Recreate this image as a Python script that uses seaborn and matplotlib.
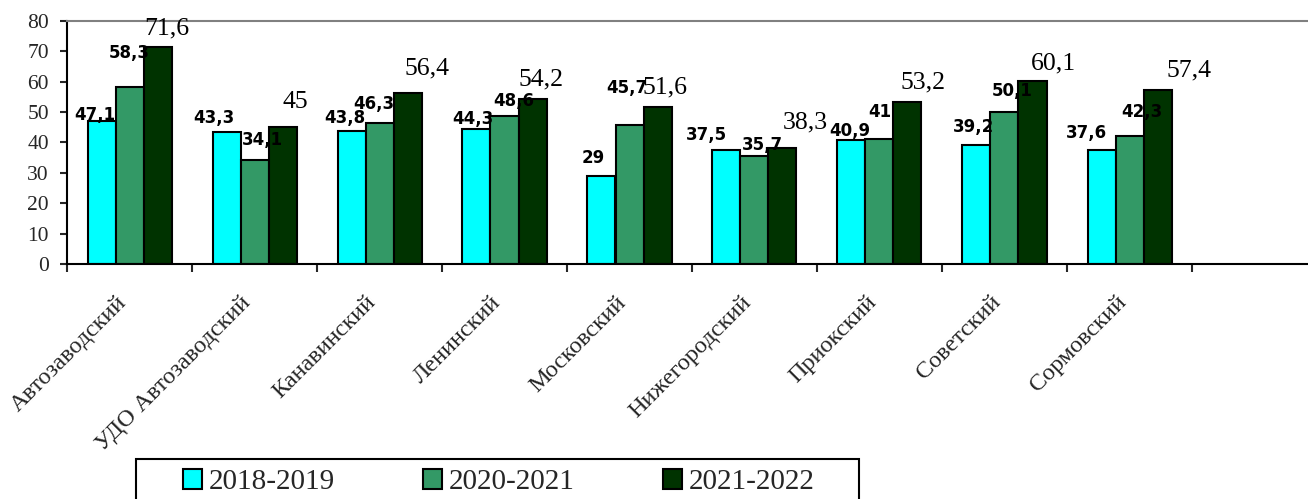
import matplotlib
matplotlib.use("Agg")
import matplotlib.pyplot as plt
import matplotlib.patches as mpatches
import matplotlib.transforms as mtransforms
import seaborn as sns
import numpy as np
import pandas as pd

districts = ["Автозаводский", "УДО Автозаводский", "Канавинский", "Ленинский",
             "Московский", "Нижегородский", "Приокский", "Советский", "Сормовский"]
periods = ["2018-2019", "2020-2021", "2021-2022"]
vals_2018_2019 = [47.1, 43.3, 43.8, 44.3, 29, 37.5, 40.9, 39.2, 37.6]
vals_2020_2021 = [58.3, 34.1, 46.3, 48.6, 45.7, 35.7, 41, 50.1, 42.3]
vals_2021_2022 = [71.6, 45, 56.4, 54.2, 51.6, 38.3, 53.2, 60.1, 57.4]
colors = ["#00FFFF", "#339966", "#003300"]

# label nudges in pixels (dx right, dy up) from the top centre of each bar
nudge_1 = [(-7, 6), (-13, 14), (-7, 13), (-4, 10), (-8, 18), (-20, 15), (-2, 9), (-3, 18), (-15, 17)]
nudge_2 = [(0, 34), (8, 20), (-6, 19), (9, 15), (-3, 37), (8, 11), (0, 27), (8, 21), (12, 24)]
nudge_3 = [(9, 18), (13, 25), (19, 24), (9, 20), (8, 20), (23, 25), (16, 20), (21, 18), (32, 19)]

df = pd.DataFrame({
    "district": districts * 3,
    "period": np.repeat(periods, len(districts)),
    "value": vals_2018_2019 + vals_2020_2021 + vals_2021_2022,
})

sns.set_style("ticks")
plt.rcParams["font.family"] = ["Liberation Serif", "DejaVu Serif"]

W, H = 1308, 499
fig = plt.figure(figsize=(W / 100, H / 100), dpi=100)
ax = fig.add_axes([67 / W, 1 - 264 / H, (W - 67) / W, (264 - 21) / H])

sns.barplot(data=df, x="district", y="value", hue="period", order=districts,
            hue_order=periods, palette=colors, saturation=1, width=0.672,
            edgecolor="black", linewidth=1.5, errorbar=None, legend=False, ax=ax)

def fmt(v):
    return f"{v:g}".replace(".", ",")

nudges = [nudge_1, nudge_2, nudge_3]
for k, cont in enumerate(ax.containers):
    for bar, (dx, dy) in zip(cont, nudges[k]):
        x = bar.get_x() + bar.get_width() / 2
        h = bar.get_height()
        if k < 2:
            ax.annotate(fmt(h), (x, h), xytext=(dx * 0.72, dy * 0.72), textcoords="offset points",
                        ha="center", va="center", fontsize=12, fontweight="bold",
                        family="DejaVu Sans", color="black", annotation_clip=False)
        else:
            ax.annotate(fmt(h), (x, h), xytext=(dx * 0.72, dy * 0.72), textcoords="offset points",
                        ha="center", va="center", fontsize=18.5, color="black",
                        annotation_clip=False)

ax.set_xlim(-0.5, (W - 67) / 125 - 0.5)
ax.set_ylim(0, 80)
ax.set_yticks(range(0, 81, 10))
ax.set_xlabel("")
ax.set_ylabel("")

ax.set_xticks(range(len(districts)))
ax.set_xticks(np.arange(-0.5, len(districts)), minor=True)
ax.tick_params(axis="x", which="major", length=0, pad=20, labelsize=17.5)
ax.tick_params(axis="x", which="minor", length=6, width=1.5, direction="out")
ax.tick_params(axis="y", length=5, width=1.5, pad=8, labelsize=15.5, direction="out")

shift = mtransforms.ScaledTranslation(-14 / 100, 0, fig.dpi_scale_trans)
for lbl in ax.get_xticklabels():
    lbl.set_rotation(45)
    lbl.set_ha("right")
    lbl.set_va("top")
    lbl.set_rotation_mode("anchor")
    lbl.set_transform(lbl.get_transform() + shift)

for side in ["left", "bottom"]:
    ax.spines[side].set_color("black")
    ax.spines[side].set_linewidth(1.5)
ax.spines["top"].set_color("#808080")
ax.spines["top"].set_linewidth(1.5)
ax.spines["right"].set_visible(False)

handles = [mpatches.Patch(facecolor=c, edgecolor="black", linewidth=1.5, label=p)
           for c, p in zip(colors, periods)]
fig.legend(handles=handles, loc="upper left", bbox_to_anchor=(183 / W, 1 - 469 / H),
           ncol=3, frameon=False, fontsize=21, handlelength=0.65, handleheight=0.68,
           handletextpad=0.25, columnspacing=3.0, borderpad=0, borderaxespad=0)
fig.add_artist(mpatches.Rectangle((136 / W, 1 - 506 / H), (859 - 136) / W, (506 - 459) / H,
                                  transform=fig.transFigure, fill=False,
                                  edgecolor="black", linewidth=1.5))

fig.savefig("out.png", dpi=100)
